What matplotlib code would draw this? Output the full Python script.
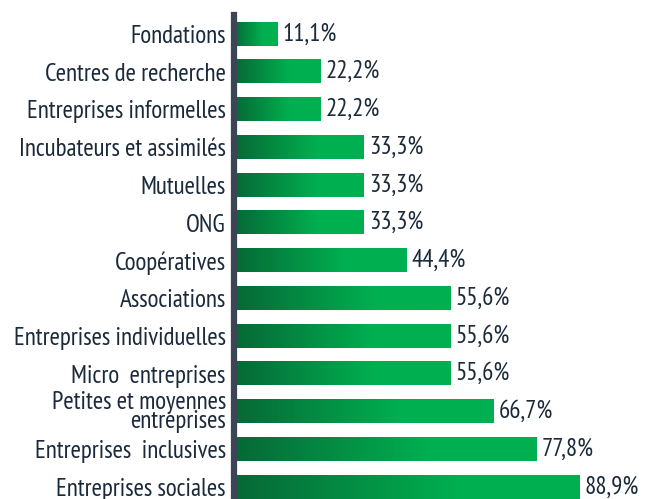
import matplotlib.pyplot as plt
import numpy as np
from matplotlib.colors import LinearSegmentedColormap

# Categories (top to bottom) and shares in %
categories = ['Fondations', 'Centres de recherche', 'Entreprises informelles',
              'Incubateurs et assimilés', 'Mutuelles', 'ONG', 'Coopératives',
              'Associations', 'Entreprises individuelles', 'Micro  entreprises',
              'Petites et moyennes\nentreprises', 'Entreprises  inclusives',
              'Entreprises sociales']
values = [11.1, 22.2, 22.2, 33.3, 33.3, 33.3, 44.4, 55.6, 55.6, 55.6, 66.7, 77.8, 88.9]
value_labels = ['11,1%', '22,2%', '22,2%', '33,3%', '33,3%', '33,3%', '44,4%',
                '55,6%', '55,6%', '55,6%', '66,7%', '77,8%', '88,9%']

plt.rcParams['font.family'] = ['PT Sans Narrow', 'DejaVu Sans']
text_color = '#1b2a3a'
fs = 18

# dark green -> bright green, flat after ~65% of the bar
green = LinearSegmentedColormap.from_list(
    'green', [(0, '#076836'), (0.65, '#00b050'), (1, '#00b050')])
grad = np.linspace(0, 1, 256).reshape(1, -1)

fig = plt.figure(figsize=(6.45, 4.99), dpi=100)
ax = fig.add_axes([233.5 / 645, 0, 388.6 / 645, 484 / 499])

pos = np.arange(len(categories))
bar_h = 0.62
for y, v in zip(pos, values):
    ax.imshow(grad, cmap=green, aspect='auto', interpolation='bilinear',
              extent=(0, v, y + bar_h / 2, y - bar_h / 2), zorder=2)

for y, v, lab in zip(pos, values, value_labels):
    ax.text(v + 1.5, y, lab, va='center', ha='left', fontsize=fs, color=text_color)

ax.set_xlim(0, 100)
ax.set_ylim(12.32, -0.5)
ax.set_yticks(pos)
ax.set_yticklabels(categories, fontsize=fs, color=text_color, linespacing=0.8)
ax.tick_params(axis='y', length=0, pad=5.5)
ax.set_xticks([])

for s in ['top', 'right', 'bottom']:
    ax.spines[s].set_visible(False)
ax.spines['left'].set_color('#3c4555')
ax.spines['left'].set_linewidth(4.5)
ax.spines['left'].set_zorder(3)

fig.savefig('out.png', dpi=100)
